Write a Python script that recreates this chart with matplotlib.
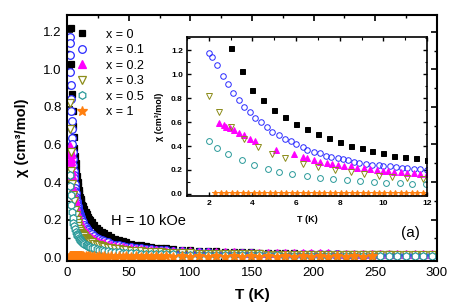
import matplotlib
matplotlib.use("Agg")
import matplotlib.pyplot as plt
from matplotlib.ticker import MultipleLocator

plt.rcParams['font.family'] = ['Liberation Sans', 'DejaVu Sans']

# ---- low temperature data ----
T_x0 = [3.0, 3.5, 4.0, 4.5, 5.0, 5.5, 6.0, 6.5, 7.0, 7.5, 8.0, 8.5, 9.0, 9.5,
        10.0, 10.5, 11.0, 11.5, 12.0]
chi_x0 = [1.22, 1.03, 0.87, 0.78, 0.70, 0.64, 0.58, 0.54, 0.50, 0.47, 0.43, 0.40,
          0.38, 0.36, 0.34, 0.32, 0.31, 0.30, 0.28]

T_x01 = [2.0, 2.14, 2.37, 2.65, 2.9, 3.1, 3.39, 3.62, 3.9, 4.13, 4.4, 4.68, 4.9,
         5.2, 5.47, 5.75, 6.0, 6.3, 6.5, 6.8, 7.1, 7.37, 7.6, 7.9, 8.15, 8.4, 8.65,
         8.9, 9.2, 9.5, 9.8, 10.0, 10.3, 10.6, 10.85, 11.1, 11.4, 11.7, 12.0]
chi_x01 = [1.175, 1.14, 1.075, 0.985, 0.915, 0.84, 0.78, 0.725, 0.68, 0.635, 0.60,
           0.56, 0.52, 0.49, 0.46, 0.44, 0.42, 0.39, 0.37, 0.35, 0.34, 0.32, 0.31,
           0.30, 0.29, 0.28, 0.27, 0.26, 0.25, 0.245, 0.24, 0.235, 0.23, 0.225,
           0.22, 0.215, 0.21, 0.205, 0.20]

T_x02 = [2.46, 2.7, 2.8, 2.97, 3.15, 3.4, 3.6, 3.9, 4.1, 5.1, 5.9, 6.3, 6.5, 6.8,
         7.1, 7.4, 7.65, 7.9, 8.2, 8.5, 8.8, 9.1, 9.4, 9.7, 10.0, 10.2, 10.5, 10.8,
         11.1, 11.4, 11.7, 12.0]
chi_x02 = [0.59, 0.575, 0.56, 0.55, 0.53, 0.51, 0.49, 0.46, 0.44, 0.37, 0.33, 0.31,
           0.30, 0.285, 0.27, 0.26, 0.25, 0.24, 0.235, 0.23, 0.22, 0.215, 0.21,
           0.20, 0.195, 0.19, 0.185, 0.18, 0.178, 0.175, 0.17, 0.165]

T_x03 = [2.0, 2.45, 3.0, 3.6, 4.25, 4.9, 5.5, 6.3, 7.0, 7.8, 8.5, 9.1, 9.8, 10.4,
         11.1, 11.8]
chi_x03 = [0.82, 0.68, 0.56, 0.46, 0.39, 0.33, 0.30, 0.25, 0.225, 0.20, 0.18, 0.165,
           0.15, 0.14, 0.13, 0.125]

T_x05 = [2.0, 2.37, 2.9, 3.5, 4.05, 4.7, 5.2, 5.8, 6.5, 7.1, 7.7, 8.35, 8.95, 9.55,
         10.1, 10.75, 11.3, 11.95]
chi_x05 = [0.44, 0.38, 0.33, 0.28, 0.24, 0.21, 0.18, 0.165, 0.15, 0.135, 0.125,
           0.115, 0.11, 0.10, 0.095, 0.09, 0.085, 0.08]

T_x1 = [2.3, 2.55, 2.8, 3.05, 3.3, 3.55, 3.8, 4.05, 4.3, 4.55, 4.8, 5.05, 5.3, 5.55,
        5.8, 6.05, 6.3, 6.55, 6.8, 7.05, 7.3, 7.55, 7.8, 8.05, 8.3, 8.55, 8.8, 9.05,
        9.3, 9.55, 9.8, 10.05, 10.3, 10.55, 10.8, 11.05, 11.3, 11.55, 11.8]
chi_x1 = [0.006, 0.005, 0.006, 0.005, 0.006, 0.005, 0.006, 0.005, 0.006, 0.005,
          0.006, 0.005, 0.006, 0.005, 0.006, 0.005, 0.006, 0.005, 0.006, 0.005,
          0.006, 0.005, 0.006, 0.005, 0.006, 0.005, 0.006, 0.005, 0.006, 0.005,
          0.006, 0.005, 0.006, 0.005, 0.006, 0.005, 0.006, 0.005, 0.006]

# ---- higher temperature data (main panel) ----
T_hi = [13, 14, 15, 16, 17, 18, 19, 20, 22, 24, 26, 28, 30, 33, 36, 39, 42, 45, 48,
        52, 56, 60, 64, 68, 72, 76, 80, 86, 93, 100, 107, 114, 121, 128, 135, 142,
        149, 156, 163, 170, 177, 184, 191, 198, 205, 212, 219, 226, 233, 240, 247,
        254, 261, 268, 275, 282, 289, 296]
chi_hi_x0 = [0.270, 0.255, 0.240, 0.228, 0.216, 0.205, 0.195, 0.186, 0.170, 0.157,
             0.145, 0.135, 0.126, 0.115, 0.105, 0.097, 0.090, 0.084, 0.078, 0.072,
             0.067, 0.062, 0.058, 0.054, 0.051, 0.048, 0.046, 0.043, 0.040, 0.037,
             0.035, 0.033, 0.031, 0.029, 0.028, 0.026, 0.025, 0.024, 0.023, 0.022,
             0.021, 0.020, 0.019, 0.018, 0.018, 0.017, 0.016, 0.016, 0.015, 0.015,
             0.014, 0.014, 0.014, 0.013, 0.013, 0.013, 0.012, 0.012]
chi_hi_x01 = [0.185, 0.172, 0.161, 0.152, 0.143, 0.136, 0.129, 0.123, 0.113, 0.104,
              0.096, 0.090, 0.085, 0.078, 0.072, 0.067, 0.063, 0.059, 0.056, 0.052,
              0.049, 0.046, 0.044, 0.042, 0.040, 0.038, 0.036, 0.034, 0.031, 0.029,
              0.027, 0.026, 0.024, 0.023, 0.022, 0.021, 0.020, 0.019, 0.018, 0.018,
              0.017, 0.016, 0.016, 0.015, 0.015, 0.014, 0.014, 0.013, 0.013, 0.013,
              0.012, 0.012, 0.012, 0.011, 0.011, 0.011, 0.011, 0.010]
chi_hi_x02 = [0.153, 0.143, 0.134, 0.127, 0.120, 0.114, 0.108, 0.104, 0.095, 0.088,
              0.082, 0.077, 0.073, 0.067, 0.062, 0.058, 0.055, 0.052, 0.050, 0.047,
              0.044, 0.042, 0.040, 0.038, 0.037, 0.035, 0.034, 0.033, 0.031, 0.030,
              0.028, 0.027, 0.026, 0.026, 0.025, 0.024, 0.023, 0.023, 0.022, 0.022,
              0.022, 0.021, 0.021, 0.020, 0.020, 0.020, 0.019, 0.019, 0.019, 0.019,
              0.019, 0.018, 0.018, 0.018, 0.018, 0.018, 0.017, 0.017]
chi_hi_x03 = [0.118, 0.110, 0.103, 0.097, 0.091, 0.087, 0.082, 0.079, 0.072, 0.066,
              0.062, 0.058, 0.054, 0.050, 0.046, 0.043, 0.041, 0.038, 0.036, 0.034,
              0.032, 0.030, 0.029, 0.027, 0.026, 0.025, 0.024, 0.023, 0.022, 0.020,
              0.019, 0.018, 0.017, 0.016, 0.016, 0.015, 0.014, 0.014, 0.013, 0.013,
              0.012, 0.012, 0.012, 0.011, 0.011, 0.011, 0.011, 0.010, 0.010, 0.010,
              0.010, 0.010, 0.009, 0.009, 0.009, 0.009, 0.009, 0.009]
chi_hi_x05 = [0.076, 0.071, 0.066, 0.062, 0.059, 0.056, 0.053, 0.051, 0.046, 0.043,
              0.040, 0.037, 0.035, 0.032, 0.029, 0.027, 0.026, 0.024, 0.023, 0.021,
              0.020, 0.019, 0.018, 0.017, 0.016, 0.015, 0.015, 0.014, 0.013, 0.013,
              0.012, 0.011, 0.011, 0.010, 0.010, 0.010, 0.009, 0.009, 0.009, 0.009,
              0.008, 0.008, 0.008, 0.008, 0.008, 0.007, 0.007, 0.007, 0.007, 0.007,
              0.007, 0.007, 0.007, 0.007, 0.006, 0.006, 0.006, 0.006]
chi_hi_x1 = [0.004, 0.003, 0.004, 0.003, 0.004, 0.003, 0.004, 0.003, 0.004, 0.003,
             0.004, 0.003, 0.004, 0.003, 0.004, 0.003, 0.004, 0.003, 0.004, 0.003,
             0.004, 0.003, 0.004, 0.003, 0.004, 0.003, 0.004, 0.003, 0.004, 0.003,
             0.004, 0.003, 0.004, 0.003, 0.004, 0.003, 0.004, 0.003, 0.004, 0.003,
             0.004, 0.003, 0.004, 0.003, 0.004, 0.003, 0.004, 0.003, 0.004, 0.003,
             0.004]

labels = ['x = 0', 'x = 0.1', 'x = 0.2', 'x = 0.3', 'x = 0.5', 'x = 1']
colors = ['black', '#2a2aff', '#ff00ff', '#8c8c1a', '#2a9a9a', '#ff7f0e']
markers = ['s', 'o', '^', 'v', 'h', '*']
filled = [True, False, True, False, False, True]

low = [(T_x0, chi_x0), (T_x01, chi_x01), (T_x02, chi_x02), (T_x03, chi_x03),
       (T_x05, chi_x05), (T_x1, chi_x1)]
high = [chi_hi_x0, chi_hi_x01, chi_hi_x02, chi_hi_x03, chi_hi_x05, chi_hi_x1]

fig = plt.figure(figsize=(4.5, 3.06), dpi=100)
ax = fig.add_axes([0.149, 0.147, 0.822, 0.804])

main_ms = [5, 5.5, 5.5, 5.5, 5.5, 7]
for i in range(6):
    T = low[i][0] + T_hi[:len(high[i])]
    chi = low[i][1] + high[i]
    fc = colors[i] if filled[i] else 'white'
    ax.plot(T, chi, linestyle='none', marker=markers[i], ms=main_ms[i],
            mfc=fc, mec=colors[i], mew=0.9, label=labels[i])

ax.set_xlim(0, 300)
ax.set_ylim(-0.021, 1.29)
ax.xaxis.set_major_locator(MultipleLocator(50))
ax.xaxis.set_minor_locator(MultipleLocator(25))
ax.yaxis.set_major_locator(MultipleLocator(0.2))
ax.yaxis.set_minor_locator(MultipleLocator(0.1))
ax.yaxis.set_major_formatter(plt.FuncFormatter(lambda v, p: '%.1f' % v))
ax.tick_params(which='both', direction='in', top=True, right=True, labelsize=9.5)
ax.tick_params(which='major', length=4.5, width=1.2, pad=4)
ax.tick_params(which='minor', length=2.5, width=1)
for s in ax.spines.values():
    s.set_linewidth(1.5)
ax.set_xlabel('T (K)', fontsize=11, fontweight='bold', labelpad=7)
ax.set_ylabel('χ (cm³/mol)', fontsize=10.5, fontweight='bold', labelpad=10)

ax.legend(loc='upper left', bbox_to_anchor=(0.0, 0.98), frameon=False,
          fontsize=9, handlelength=1.0, handletextpad=1.4, labelspacing=0.28,
          borderaxespad=0.3)

ax.text(0.119, 0.163, 'H = 10 kOe', transform=ax.transAxes, fontsize=10.5,
        va='center', ha='left')
ax.text(0.927, 0.115, '(a)', transform=ax.transAxes, fontsize=11,
        va='center', ha='center')

# ---- inset ----
ins = fig.add_axes([0.4156, 0.3595, 0.5333, 0.5196])
ins_ms = [3.6, 4, 4.2, 4.2, 4.2, 5]
for i in range(6):
    fc = colors[i] if filled[i] else 'none'
    mk = 'o' if markers[i] == 'h' else markers[i]
    ins.plot(low[i][0], low[i][1], linestyle='none', marker=mk, ms=ins_ms[i],
             mfc=fc, mec=colors[i], mew=0.7)

ins.set_xlim(1, 12)
ins.set_ylim(-0.017, 1.31)
ins.xaxis.set_major_locator(MultipleLocator(2))
ins.xaxis.set_minor_locator(MultipleLocator(1))
ins.yaxis.set_major_locator(MultipleLocator(0.2))
ins.yaxis.set_minor_locator(MultipleLocator(0.1))
ins.yaxis.set_major_formatter(plt.FuncFormatter(lambda v, p: '%.1f' % v))
ins.tick_params(which='both', direction='in', top=True, right=True, labelsize=6)
ins.tick_params(which='major', length=3, width=1, pad=3)
ins.tick_params(which='minor', length=1.8, width=0.8)
for lab in ins.get_xticklabels() + ins.get_yticklabels():
    lab.set_fontweight('bold')
for s in ins.spines.values():
    s.set_linewidth(1.2)
ins.set_xlabel('T (K)', fontsize=6.5, fontweight='bold', labelpad=6)
ins.set_ylabel('χ (cm³/mol)', fontsize=6.5, fontweight='bold', labelpad=5)

fig.savefig('out.png', dpi=100)
